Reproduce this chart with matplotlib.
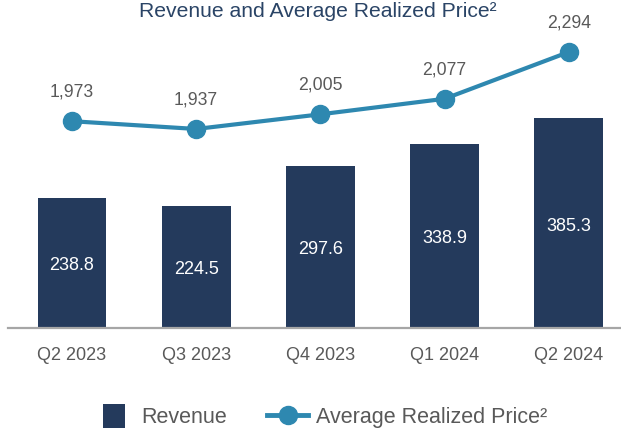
import matplotlib.pyplot as plt
from matplotlib.patches import Patch, Rectangle
from matplotlib.lines import Line2D
from matplotlib.legend_handler import HandlerPatch

quarters = ["Q2 2023", "Q3 2023", "Q4 2023", "Q1 2024", "Q2 2024"]
revenue = [238.8, 224.5, 297.6, 338.9, 385.3]
avg_price = [1973, 1937, 2005, 2077, 2294]

bar_color = "#243a5c"
line_color = "#2e88b0"
text_gray = "#595959"

plt.rcParams["font.family"] = ["Liberation Sans", "DejaVu Sans"]

fig = plt.figure(figsize=(6.21, 4.28), dpi=100)
# axes placed in pixel terms: baseline at y=328, top at y=30
ax = fig.add_axes([8 / 621, (428 - 328) / 428, 1 - 8 / 621, 298 / 428])

x = range(len(quarters))
ax.bar(x, revenue, width=0.555, color=bar_color, zorder=2)
for xi, v in zip(x, revenue):
    ax.annotate(f"{v:.1f}", (xi, v / 2), xytext=(0, -2), textcoords="offset points",
                ha="center", va="center", color="white", fontsize=13, zorder=3)

ax.set_xlim(-0.515, 4.42)
ax.set_ylim(0, 548)
ax.set_xticks(list(x))
ax.set_xticklabels(quarters, fontsize=13, color=text_gray)
ax.tick_params(axis="x", length=0, pad=14)
ax.set_yticks([])
for side in ["top", "right", "left"]:
    ax.spines[side].set_visible(False)
ax.spines["bottom"].set_color("#a6a6a6")
ax.spines["bottom"].set_linewidth(1.6)

ax2 = ax.twinx()
ax2.plot(list(x), avg_price, color=line_color, linewidth=3,
         marker="o", markersize=13, zorder=4)
for xi, p in zip(x, avg_price):
    ax2.annotate(f"{p:,}", (xi, p), xytext=(0, 21), textcoords="offset points",
                 ha="center", va="center", fontsize=12.7, color=text_gray)
ax2.set_ylim(1014, 2396)
ax2.set_yticks([])
for side in ["top", "right", "left", "bottom"]:
    ax2.spines[side].set_visible(False)

fig.text(318 / 621, 1 - 17 / 428, "Revenue and Average Realized Price²",
         ha="center", va="baseline", fontsize=15.2, color="#2a4466")


def small_square(legend, orig_handle, xdescent, ydescent, width, height, fontsize):
    # square sits near the right of the handle box, like the original
    w, h = 15.8, 17.3
    return Rectangle((width - 6.5 - w - xdescent, -ydescent + (height - h) / 2), w, h)


handles = [
    Patch(facecolor=bar_color, label="Revenue"),
    Line2D([0], [0], color=line_color, linewidth=3.5, marker="o",
           markersize=13, label="Average Realized Price²"),
]
fig.legend(handles=handles, loc="center", bbox_to_anchor=(320 / 621, 1 - 417 / 428),
           ncol=2, frameon=False, fontsize=15.5, labelcolor=text_gray,
           handlelength=1.9, handleheight=1.1, columnspacing=1.86,
           handletextpad=0.37, borderpad=0,
           handler_map={Patch: HandlerPatch(patch_func=small_square)})

fig.savefig("out.png", dpi=100)
